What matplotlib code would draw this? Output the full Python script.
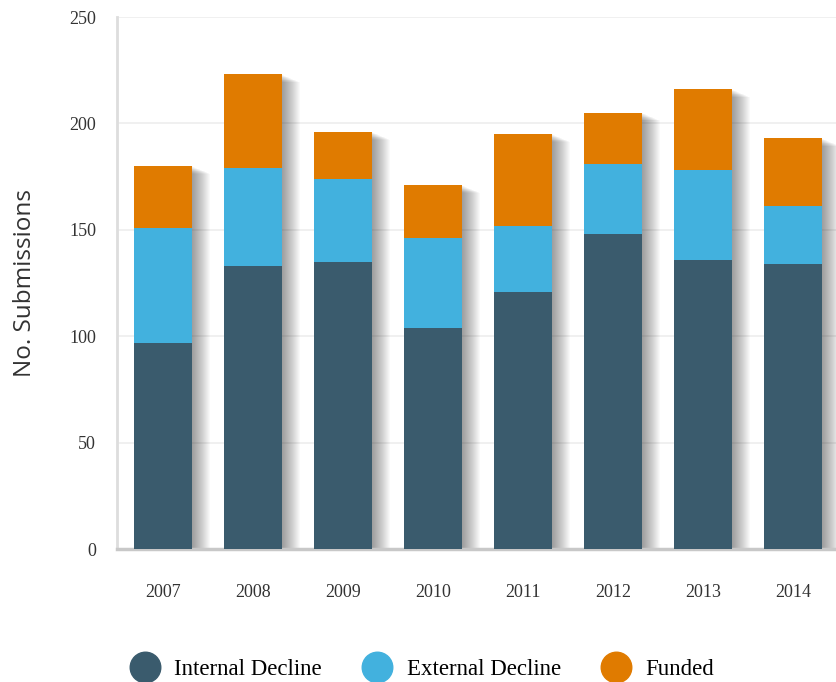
import matplotlib
matplotlib.use("Agg")
import matplotlib.pyplot as plt
from matplotlib.lines import Line2D
import numpy as np

years = ["2007", "2008", "2009", "2010", "2011", "2012", "2013", "2014"]
internal_decline = [97, 133, 135, 104, 121, 148, 136, 134]
external_decline = [54, 46, 39, 42, 31, 33, 42, 27]
funded = [29, 44, 22, 25, 43, 24, 38, 32]
series_names = ["Internal Decline", "External Decline", "Funded"]
colors = ["#3a5b6d", "#42b1de", "#e07b00"]

fig = plt.figure(figsize=(8.36, 6.82), dpi=100)
ax = fig.add_axes([117/836, 1 - 549/682, 1 - 117/836, (549 - 17)/682])

x = np.arange(len(years))
w = 0.645
totals = np.array(internal_decline) + np.array(external_decline) + np.array(funded)

# soft drop shadow
for k in range(1, 19):
    ax.bar(x + k * 0.011, totals - k * 0.2, width=w, bottom=0, color="black",
           alpha=0.025, linewidth=0, zorder=1)

bottom = np.zeros(len(years))
for vals, col in zip([internal_decline, external_decline, funded], colors):
    ax.bar(x, vals, width=w, bottom=bottom, color=col, linewidth=0, zorder=3)
    bottom += np.array(vals)

ax.set_xlim(-0.511, 7.478)
ax.set_ylim(0, 250)
ax.set_yticks([0, 50, 100, 150, 200, 250])
ax.set_xticks(x)
ax.set_xticklabels(years)

ax.grid(axis="y", color="#eeeeee", linewidth=1.2, zorder=0)
ax.set_axisbelow(True)
for s in ["top", "right"]:
    ax.spines[s].set_visible(False)
ax.spines["left"].set_color("#dddddd")
ax.spines["left"].set_linewidth(2)
ax.spines["bottom"].set_color("#c8c8c8")
ax.spines["bottom"].set_linewidth(2.5)

ax.tick_params(axis="both", length=0, colors="#333333")
ax.tick_params(axis="y", pad=15, labelsize=13)
ax.tick_params(axis="x", pad=25, labelsize=13)
for lab in ax.get_xticklabels() + ax.get_yticklabels():
    lab.set_family("Liberation Serif")
    lab.set_color("#333333")

ax.set_ylabel("No. Submissions", fontsize=17.5, family="Open Sans", color="#333333")
ax.yaxis.set_label_coords((37 - 117) / (836 - 117), 0.5)

handles = [Line2D([0], [0], marker="o", linestyle="", markersize=22,
                  markerfacecolor=c, markeredgecolor=c) for c in colors]
fig.legend(handles, series_names, loc="center", bbox_to_anchor=(0.5, 1 - 669/682),
           ncol=3, frameon=False, prop={"family": "Liberation Serif", "size": 16.5},
           handletextpad=0.3, columnspacing=1.4)

fig.savefig("out.png", dpi=100)
